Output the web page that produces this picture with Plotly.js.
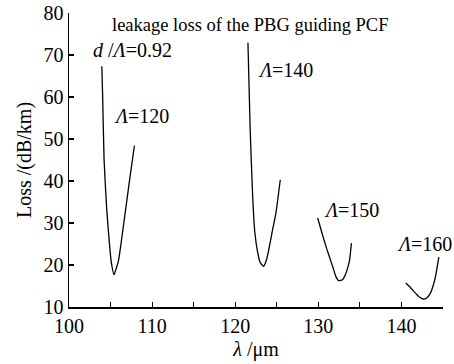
<!DOCTYPE html>
<html>
<head>
<meta charset="utf-8">
<script src="https://cdn.plot.ly/plotly-3.0.1.min.js"></script>
<style>html,body{margin:0;padding:0;background:#fff;}#chart{width:454px;height:364px;}</style>
</head>
<body>
<div id="chart"></div>
<script>
// Λ = 120
var lam120 = [103.95, 104.05, 104.22, 104.54, 104.86, 105.1, 105.42, 105.7, 105.98, 106.54, 107.0, 107.35, 107.87];
var loss120 = [67.3, 60.0, 45.1, 33.2, 25.2, 20.5, 17.7, 19.3, 21.3, 29.2, 36.0, 41.1, 48.4];
// Λ = 140
var lam140 = [121.53, 121.8, 122.1, 122.33, 122.7, 123.0, 123.41, 123.8, 124.5, 124.9, 125.42];
var loss140 = [72.9, 52.2, 36.3, 28.4, 23.0, 20.6, 19.7, 21.5, 28.4, 32.4, 40.3];
// Λ = 150
var lam150 = [129.92, 130.5, 131.05, 131.7, 132.1, 132.45, 132.9, 133.25, 133.6, 133.77, 133.98];
var loss150 = [31.2, 27.2, 23.6, 19.8, 17.3, 16.3, 16.5, 17.7, 19.8, 21.3, 25.2];
// Λ = 160
var lam160 = [140.52, 141.1, 141.69, 142.2, 142.6, 143.0, 143.49, 143.8, 144.1, 144.5];
var loss160 = [15.7, 14.6, 13.3, 12.3, 11.9, 12.1, 13.3, 15.0, 17.3, 21.9];

var xTickVals = [100, 110, 120, 130, 140];
var xTickText = ['100', '110', '120', '130', '140'];
var yTickVals = [10, 20, 30, 40, 50, 60, 70, 80];

var labelText = ['<i>Λ</i>=120', '<i>Λ</i>=140', '<i>Λ</i>=150', '<i>Λ</i>=160'];
var labelX = [105.14, 122.5, 130.4, 139.23];
var labelY = [55.4, 66.5, 33.2, 24.9];

var FONT = 'Liberation Serif, Times New Roman, serif';
var FS = 20;

function curve(x, y) {
  return {x: x, y: y, type: 'scatter', mode: 'lines',
          line: {color: '#000', width: 1.3, shape: 'spline', smoothing: 0.5},
          hoverinfo: 'skip', showlegend: false};
}

var data = [curve(lam120, loss120), curve(lam140, loss140), curve(lam150, loss150), curve(lam160, loss160)];

var annotations = labelText.map(function (t, i) {
  return {x: labelX[i], y: labelY[i], xref: 'x', yref: 'y', text: t, showarrow: false,
          xanchor: 'left', yanchor: 'middle', font: {family: FONT, size: FS, color: '#000'}};
});
annotations.push({x: 102.6, y: 71.3, xref: 'x', yref: 'y', text: '<i>d</i> /<i>Λ</i>=0.92', showarrow: false,
  xanchor: 'left', yanchor: 'middle', font: {family: FONT, size: FS, color: '#000'}});
annotations.push({x: 121.8, y: 77.2, xref: 'x', yref: 'y', text: 'leakage loss of the PBG guiding PCF', showarrow: false,
  xanchor: 'center', yanchor: 'middle', font: {family: FONT, size: 18.5, color: '#000'}});

var layout = {
  width: 454, height: 364,
  margin: {l: 69, r: 11, t: 13, b: 57},
  paper_bgcolor: '#fff', plot_bgcolor: '#fff',
  font: {family: FONT, size: FS, color: '#000'},
  xaxis: {
    range: [100, 145], tickmode: 'array', tickvals: xTickVals, ticktext: xTickText,
    ticks: 'inside', ticklen: 5, tickwidth: 1.2, tickcolor: '#000',
    minor: {dtick: 5, tick0: 100, ticks: 'inside', ticklen: 5, tickwidth: 1.2, tickcolor: '#000'},
    showline: true, linecolor: '#000', linewidth: 1.5, showgrid: false, zeroline: false,
    tickfont: {family: FONT, size: FS, color: '#000'},
    title: {text: '<i>λ</i> /μm', font: {family: FONT, size: FS, color: '#000'}, standoff: 6}
  },
  yaxis: {
    range: [10, 80], tickmode: 'array', tickvals: yTickVals,
    ticks: 'inside', ticklen: 5, tickwidth: 1.2, tickcolor: '#000',
    showline: true, linecolor: '#000', linewidth: 1.5, showgrid: false, zeroline: false,
    tickfont: {family: FONT, size: FS, color: '#000'},
    title: {text: 'Loss /(dB/km)', font: {family: FONT, size: FS, color: '#000'}, standoff: 6}
  },
  annotations: annotations
};

Plotly.newPlot('chart', data, layout, {staticPlot: true, displayModeBar: false});
</script>
</body>
</html>
